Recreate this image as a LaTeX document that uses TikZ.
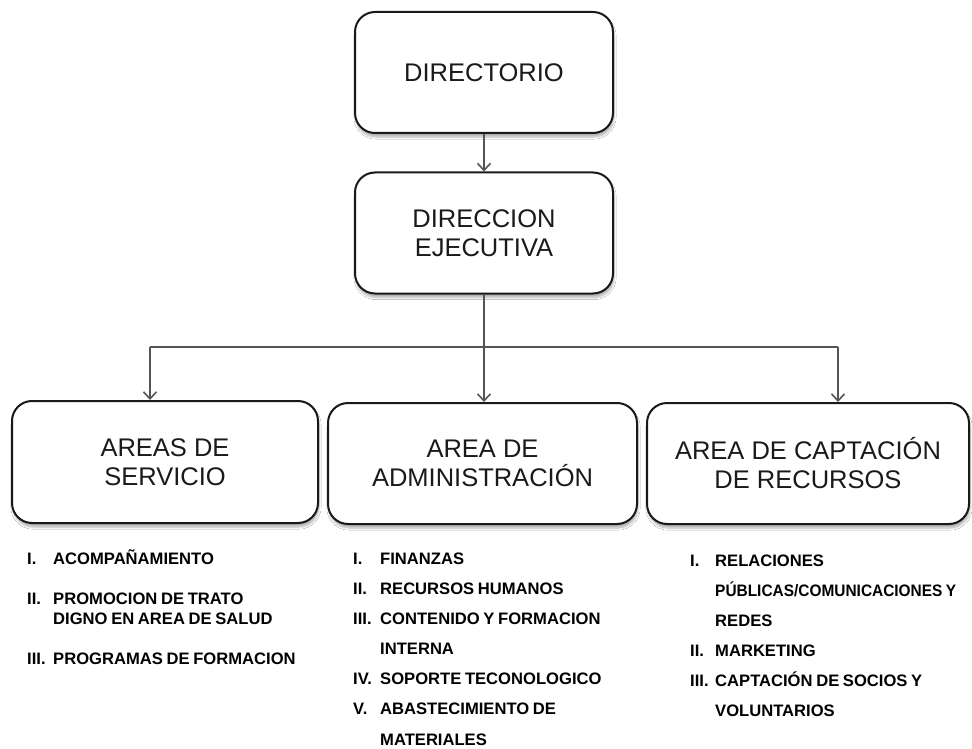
\documentclass[tikz,border=0pt]{standalone}
\usepackage{fontspec}
\setmainfont{Liberation Sans}
\usetikzlibrary{arrows.meta,shadows.blur}
\definecolor{conngray}{HTML}{555555}
\definecolor{boxtext}{HTML}{1A1A1A}
\newcommand{\myitemfont}{\fontsize{16.6}{19}\bfseries\selectfont\spaceskip=0.22em\relax}
\tikzset{
  orgbox/.style={draw=black!90, line width=2pt, rounded corners=20pt, fill=white,
    align=center, text=boxtext, font=\fontsize{25.5}{29}\selectfont,
    blur shadow={shadow xshift=1pt, shadow yshift=-4pt, shadow blur steps=6, shadow opacity=30}},
  conn/.style={draw=conngray, line width=1.6pt},
  arr/.style={conn, -{Straight Barb[length=7pt,width=13pt,line width=1.6pt]}},
  item/.style={anchor=base west, inner sep=0pt, font=\myitemfont}
}
\begin{document}
\begin{tikzpicture}[x=1pt,y=-1pt]
\useasboundingbox (0,0) rectangle (972,749);
\fill[white] (0,0) rectangle (972,749);

\node[orgbox, minimum width=258pt, minimum height=121pt] (dir) at (484,72.5) {DIRECTORIO};
\node[orgbox, minimum width=258pt, minimum height=121pt] (de) at (484,233) {DIRECCION\\EJECUTIVA};
\node[orgbox, minimum width=306pt, minimum height=122pt] (s) at (165,462) {AREAS DE\\SERVICIO};
\node[orgbox, minimum width=309pt, minimum height=121pt] (a) at (482.5,463.5) {AREA DE\\ADMINISTRACIÓN};
\node[orgbox, minimum width=322pt, minimum height=121pt] (c) at (808,463.5) {AREA DE CAPTACIÓN\\DE RECURSOS};

\coordinate (hub) at (484,347);
\coordinate (hl) at (150,347);
\coordinate (hr) at (838,347);

\draw[arr] (dir) -- (de);
\draw[conn] (de.south) -- (hub);
\draw[conn] (hl) -- (hr);
\draw[arr] (hl) -- (hl |- s.north);
\draw[arr] (hub) -- (hub |- a.north);
\draw[arr] (hr) -- (hr |- c.north);

% left list
\node[item] (s1n) at (27,564) {I.};
\node[item] (s1t) at (53,564) {ACOMPAÑAMIENTO};
\node[item] (s2n) at (27,604) {II.};
\node[item] (s2t) at (53,604) {PROMOCION DE TRATO};
\node[item] (s2u) at (53,624) {DIGNO EN AREA DE SALUD};
\node[item] (s3n) at (27,664) {III.};
\node[item] (s3t) at (53,664) {PROGRAMAS DE FORMACION};

% middle list
\node[item] (a1n) at (353,564) {I.};
\node[item] (a1t) at (380,564) {FINANZAS};
\node[item] (a2n) at (353,594) {II.};
\node[item] (a2t) at (380,594) {RECURSOS HUMANOS};
\node[item] (a3n) at (353,624) {III.};
\node[item] (a3t) at (380,624) {CONTENIDO Y FORMACION};
\node[item] (a3u) at (380,654) {INTERNA};
\node[item] (a4n) at (353,684) {IV.};
\node[item] (a4t) at (380,684) {SOPORTE TECONOLOGICO};
\node[item] (a5n) at (353,714) {V.};
\node[item] (a5t) at (380,714) {ABASTECIMIENTO DE};
\node[item] (a5u) at (380,745) {MATERIALES};

% right list
\node[item] (c1n) at (690,566) {I.};
\node[item] (c1t) at (715,566) {RELACIONES};
\node[item] (c1u) at (715,596) {\scalebox{0.93}[1]{PÚBLICAS/COMUNICACIONES Y}};
\node[item] (c1v) at (715,626) {REDES};
\node[item] (c2n) at (690,656) {II.};
\node[item] (c2t) at (715,656) {MARKETING};
\node[item] (c3n) at (690,686) {III.};
\node[item] (c3t) at (715,686) {CAPTACIÓN DE SOCIOS Y};
\node[item] (c3u) at (715,716) {VOLUNTARIOS};
\end{tikzpicture}
\end{document}
